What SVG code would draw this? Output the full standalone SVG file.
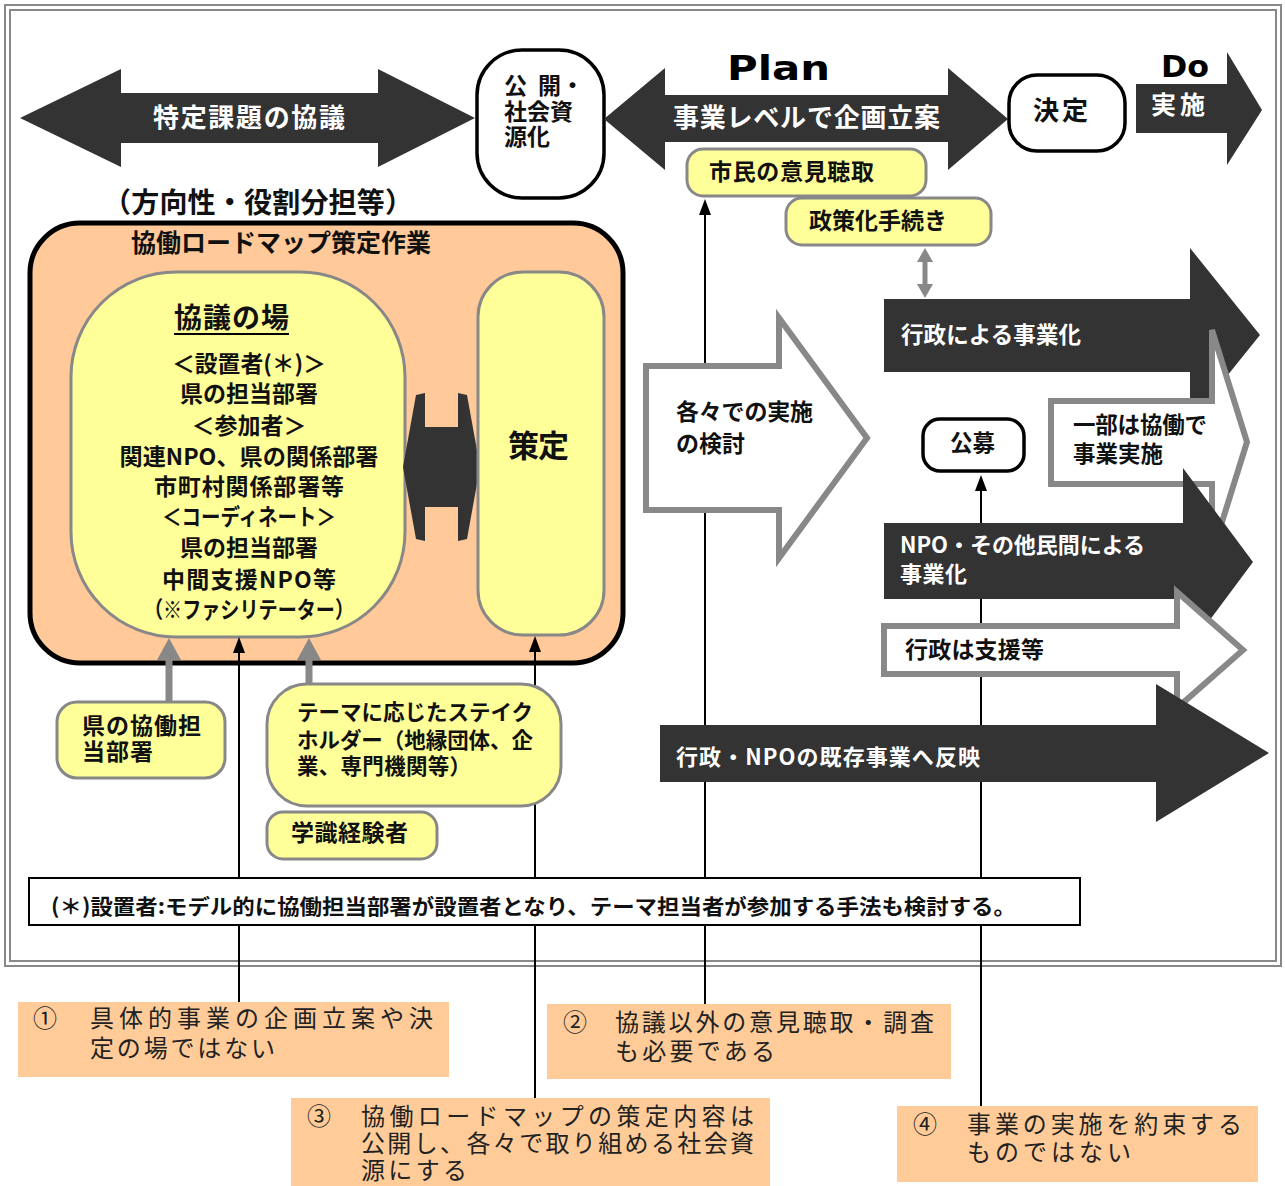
<svg xmlns="http://www.w3.org/2000/svg" width="1285" height="1186" viewBox="0 0 1285 1186">
<style>
.dk{fill:#333}
.yl{fill:#FFFF99;stroke:#888;stroke-width:3}
.wa{fill:#fff;stroke:#888;stroke-width:6;stroke-linejoin:miter}
.bx{fill:#fff;stroke:#000;stroke-width:3.5}
.nt{fill:#FFCC99}
.b{font-family:"Noto Sans CJK JP","Noto Sans CJK SC",sans-serif;font-weight:700;fill:#111}
.w{fill:#fff}
.n{font-family:"Noto Sans CJK JP","Noto Sans CJK SC",sans-serif;font-weight:400;fill:#222;font-size:24px}
.ln{stroke:#000;stroke-width:2;fill:none}
.gl{stroke:#888;stroke-width:7;fill:none}
</style>
<defs>
<marker id="ah" viewBox="0 0 16 12" refX="6" refY="6" markerWidth="16" markerHeight="12" markerUnits="userSpaceOnUse" orient="auto"><path d="M0,0 L16,6 L0,12 z" fill="#000"/></marker>
<marker id="gh" viewBox="0 0 22 24" refX="4" refY="12" markerWidth="22" markerHeight="24" markerUnits="userSpaceOnUse" orient="auto"><path d="M0,0 L22,12 L0,24 z" fill="#888"/></marker>
<marker id="gs" viewBox="0 0 14 16" refX="4" refY="8" markerWidth="14" markerHeight="16" markerUnits="userSpaceOnUse" orient="auto-start-reverse"><path d="M0,0 L14,8 L0,16 z" fill="#888"/></marker>
</defs>
<rect width="1285" height="1186" fill="#fff"/>
<g id="frame" fill="none" stroke="#888" stroke-width="2">
<rect x="5" y="5" width="1276" height="961"/>
<rect x="10" y="10" width="1266" height="951"/>
</g>

<g id="arrow-tokutei">
<polygon class="dk" points="20,118 121,69 121,93 378,93 378,69 475,118 378,167 378,143 121,143 121,167"/>
<text class="b w" x="153" y="127" font-size="26" textLength="192">特定課題の協議</text>
</g>
<g id="node-kokai">
<rect class="bx" x="477" y="50" width="127" height="148" rx="45"/>
<text class="b" font-size="23"><tspan x="504" y="94">公</tspan><tspan x="538" y="94">開・</tspan><tspan x="504" y="120">社会資</tspan><tspan x="504" y="145">源化</tspan></text>
</g>
<g id="arrow-plan">
<text x="727" y="80" font-family="'DejaVu Sans',sans-serif" font-weight="700" font-size="34" textLength="103" lengthAdjust="spacingAndGlyphs">Plan</text>
<polygon class="dk" points="604,119 665,68 665,95 948,95 948,68 1008,119 948,170 948,142 665,142 665,170"/>
<text class="b w" x="673" y="127" font-size="26" textLength="267">事業レベルで企画立案</text>
</g>
<g id="node-kettei">
<rect class="bx" x="1009" y="75" width="116" height="76" rx="28"/>
<text class="b" x="1033" y="120" font-size="26" textLength="55">決定</text>
</g>
<g id="arrow-do">
<text x="1161" y="77" font-family="'DejaVu Sans',sans-serif" font-weight="700" font-size="30" textLength="48" lengthAdjust="spacingAndGlyphs">Do</text>
<polygon class="dk" points="1136,84 1227,84 1227,52 1262,110 1227,165 1227,133 1136,133"/>
<text class="b w" x="1151" y="114" font-size="25" textLength="54">実施</text>
</g>

<g id="label-hoko">
<text class="b" x="103" y="213" font-size="28" textLength="310">（方向性・役割分担等）</text>
</g>

<g id="node-roadmap">
<rect x="30" y="223" width="593" height="440" rx="50" fill="#FFC999" stroke="#000" stroke-width="5"/>
<text class="b" x="131" y="252" font-size="25" textLength="300">協働ロードマップ策定作業</text>
</g>
<g id="node-kyogi">
<rect class="yl" x="71" y="272" width="334" height="365" rx="105"/>
<text class="b" x="174" y="328" font-size="28" textLength="115">協議の場</text>
<line x1="174" y1="334" x2="289" y2="334" stroke="#000" stroke-width="2"/>
<text class="b" font-size="23" text-anchor="middle"><tspan x="249" y="372" textLength="154" lengthAdjust="spacingAndGlyphs">＜設置者(＊)＞</tspan><tspan x="249" y="402" textLength="138">県の担当部署</tspan><tspan x="249" y="434" textLength="115">＜参加者＞</tspan><tspan x="249" y="465" textLength="259" lengthAdjust="spacingAndGlyphs">関連NPO、県の関係部署</tspan><tspan x="249" y="495" textLength="190">市町村関係部署等</tspan><tspan x="249" y="525" textLength="174" lengthAdjust="spacingAndGlyphs">＜コーディネート＞</tspan><tspan x="249" y="556" textLength="138">県の担当部署</tspan><tspan x="249" y="588" textLength="174">中間支援NPO等</tspan><tspan x="249" y="618" textLength="210" lengthAdjust="spacingAndGlyphs">（※ファシリテーター）</tspan></text>
</g>
<g id="arrow-h">
<polygon class="dk" points="403,467 416,395 425,393 425,427 458,427 458,393 467,395 480,467 467,539 458,541 458,507 425,507 425,541 416,539"/>
</g>
<g id="node-sakutei">
<rect class="yl" x="478" y="272" width="126" height="363" rx="45"/>
<text class="b" x="508" y="457" font-size="31" textLength="61">策定</text>
</g>

<g id="connectors">
<line class="ln" x1="239" y1="1002" x2="239" y2="647" marker-end="url(#ah)"/>
<line class="ln" x1="535" y1="1098" x2="535" y2="646" marker-end="url(#ah)"/>
<line class="ln" x1="705" y1="1004" x2="705" y2="209" marker-end="url(#ah)"/>
<line class="ln" x1="981" y1="1106" x2="981" y2="485" marker-end="url(#ah)"/>
<line class="gl" x1="169" y1="702" x2="169" y2="656" marker-end="url(#gh)"/>
<line class="gl" x1="309" y1="684" x2="309" y2="656" marker-end="url(#gh)"/>
<line x1="925" y1="258" x2="925" y2="288" stroke="#888" stroke-width="5" marker-start="url(#gs)" marker-end="url(#gs)"/>
</g>

<g id="node-kyodo-tanto">
<rect class="yl" x="57" y="702" width="168" height="76" rx="20"/>
<text class="b" font-size="23"><tspan x="82" y="734" textLength="119">県の協働担</tspan><tspan x="82" y="760" textLength="71">当部署</tspan></text>
</g>
<g id="node-stakeholder">
<rect class="yl" x="267" y="684" width="294" height="122" rx="40"/>
<text class="b" font-size="21.5"><tspan x="297" y="720" textLength="236">テーマに応じたステイク</tspan><tspan x="297" y="748" textLength="236">ホルダー（地縁団体、企</tspan><tspan x="297" y="774" textLength="174">業、専門機関等）</tspan></text>
</g>
<g id="node-gakushiki">
<rect class="yl" x="267" y="812" width="170" height="47" rx="16"/>
<text class="b" x="291" y="841" font-size="23" textLength="117">学識経験者</text>
</g>
<g id="node-shimin">
<rect class="yl" x="687" y="149" width="239" height="47" rx="16"/>
<text class="b" x="709" y="180" font-size="23" textLength="165">市民の意見聴取</text>
</g>
<g id="node-seisaku">
<rect class="yl" x="786" y="198" width="205" height="47" rx="16"/>
<text class="b" x="809" y="229" font-size="23" textLength="138">政策化手続き</text>
</g>

<g id="arrow-kakkaku">
<polygon class="wa" points="646,366 779,366 779,318 867,438 779,558 779,510 646,510"/>
<text class="b" font-size="23"><tspan x="676" y="420" textLength="137">各々での実施</tspan><tspan x="676" y="452" textLength="69">の検討</tspan></text>
</g>
<g id="arrow-gyosei">
<polygon class="dk" points="884,299 1190,299 1190,248 1260,335 1190,422 1190,372 884,372"/>
<text class="b w" x="901" y="343" font-size="22.5" textLength="180">行政による事業化</text>
</g>
<g id="arrow-ichibu">
<polygon class="wa" points="1051,401 1212,401 1212,330 1247,442 1212,554 1212,484 1051,484"/>
<text class="b" font-size="22.5"><tspan x="1073" y="433" textLength="134">一部は協働で</tspan><tspan x="1073" y="462" textLength="90">事業実施</tspan></text>
</g>
<g id="node-kobo">
<rect class="bx" x="923" y="419" width="101" height="52" rx="17"/>
<text class="b" x="950" y="451" font-size="22.5" textLength="45">公募</text>
</g>
<g id="arrow-npo">
<polygon class="dk" points="884,523 1183,523 1183,468 1253,562 1183,656 1183,599 884,599"/>
<text class="b w" font-size="22"><tspan x="900" y="553" textLength="245">NPO・その他民間による</tspan><tspan x="900" y="582" textLength="67">事業化</tspan></text>
</g>
<g id="arrow-shien">
<polygon class="wa" points="884,626 1177,626 1177,592 1243,650 1177,708 1177,674 884,674"/>
<text class="b" x="905" y="658" font-size="23" textLength="139">行政は支援等</text>
</g>
<g id="arrow-kizon">
<polygon class="dk" points="660,725 1156,725 1156,684 1269,753 1156,822 1156,782 660,782"/>
<text class="b w" x="676" y="765" font-size="22" textLength="304">行政・NPOの既存事業へ反映</text>
</g>

<g id="node-note">
<rect x="29" y="878" width="1051" height="47" fill="#fff" stroke="#000" stroke-width="2"/>
<text class="b" x="51" y="914" font-size="21" textLength="965" lengthAdjust="spacingAndGlyphs">(＊)設置者:モデル的に協働担当部署が設置者となり、テーマ担当者が参加する手法も検討する。</text>
</g>

<g id="note-1">
<rect class="nt" x="18" y="1002" width="431" height="75"/>
<text class="n"><tspan x="33" y="1027">①</tspan><tspan x="90" y="1027" textLength="343">具体的事業の企画立案や決</tspan><tspan x="90" y="1057" textLength="185">定の場ではない</tspan></text>
</g>
<g id="note-2">
<rect class="nt" x="547" y="1004" width="404" height="75"/>
<text class="n"><tspan x="563" y="1031">②</tspan><tspan x="615" y="1031" textLength="319">協議以外の意見聴取・調査</tspan><tspan x="615" y="1060" textLength="160">も必要である</tspan></text>
</g>
<g id="note-3">
<rect class="nt" x="291" y="1098" width="479" height="88"/>
<text class="n"><tspan x="307" y="1125">③</tspan><tspan x="361" y="1125" textLength="393">協働ロードマップの策定内容は</tspan><tspan x="361" y="1152" textLength="393">公開し、各々で取り組める社会資</tspan><tspan x="361" y="1179" textLength="106">源にする</tspan></text>
</g>
<g id="note-4">
<rect class="nt" x="897" y="1106" width="361" height="76"/>
<text class="n"><tspan x="913" y="1133">④</tspan><tspan x="967" y="1133" textLength="275">事業の実施を約束する</tspan><tspan x="967" y="1161" textLength="164">ものではない</tspan></text>
</g>
</svg>
